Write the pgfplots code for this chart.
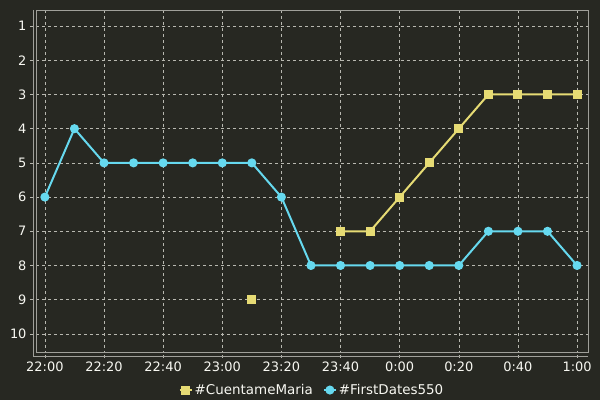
\documentclass[border=0pt]{standalone}
\usepackage{pgfplots}
\pgfplotsset{compat=1.18}
\usepackage{fontspec}
\setmainfont{DejaVu Sans}
\definecolor{bg}{HTML}{272822}
\definecolor{fg}{HTML}{F8F8F2}
\definecolor{cyel}{HTML}{E6DB74}
\definecolor{ccyan}{HTML}{66D9EF}
\definecolor{boxc}{HTML}{A0A09A}
\definecolor{gridc}{HTML}{B8B8B0}
\begin{document}
\begin{tikzpicture}
\fill[bg] (0,0) rectangle (600bp,400bp);
\begin{axis}[
  at={(36bp,48bp)}, anchor=south west,
  scale only axis, width=552bp, height=342bp,
  xmin=-3, xmax=183.7,
  ymin=0.53, ymax=10.53, y dir=reverse,
  xtick={0,20,40,60,80,100,120,140,160,180},
  xticklabels={22:00,22:20,22:40,23:00,23:20,23:40,0:00,0:20,0:40,1:00},
  minor tick num=0,
  ytick={1,...,10},
  grid=major,
  major grid style={gridc, dashed, line width=0.5pt},
  axis line style={boxc, line width=1pt},
  tick align=outside, major tick length=6bp,
  major tick style={gridc, dashed, line width=0.5pt},
  xtick pos=bottom, ytick pos=left,
  ticklabel style={font=\fontsize{13}{15}\selectfont, text=fg},
  /pgf/number format/assume math mode=true,
  unbounded coords=jump,
  legend style={at={(0.5,-28bp)}, anchor=north, draw=none, fill=none,
    text=fg, font=\fontsize{13.5}{15}\selectfont, legend columns=-1,
    /tikz/every even column/.append style={column sep=8bp}},
  legend image code/.code={\draw[#1] (0bp,0bp) -- (12bp,0bp); \draw[#1, only marks] plot coordinates {(6bp,0bp)};},
]
\addplot[cyel, line width=2pt, mark=square*, mark size=3.5bp] coordinates {
(0,nan)(70,9)(80,nan)(90,nan)(100,7)(110,7)(120,6)(130,5)(140,4)(150,3)(160,3)(170,3)(180,3)};
\addlegendentry{\#CuentameMaria}
\addplot[ccyan, line width=2pt, mark=*, mark size=3.5bp] coordinates {
(0,6)(10,4)(20,5)(30,5)(40,5)(50,5)(60,5)(70,5)(80,6)(90,8)(100,8)(110,8)(120,8)(130,8)(140,8)(150,7)(160,7)(170,7)(180,8)};
\addlegendentry{\#FirstDates550}
\end{axis}
\draw[boxc, line width=1pt] (33bp,390bp) -- (33bp,44bp) -- (588bp,44bp);
\end{tikzpicture}
\end{document}
